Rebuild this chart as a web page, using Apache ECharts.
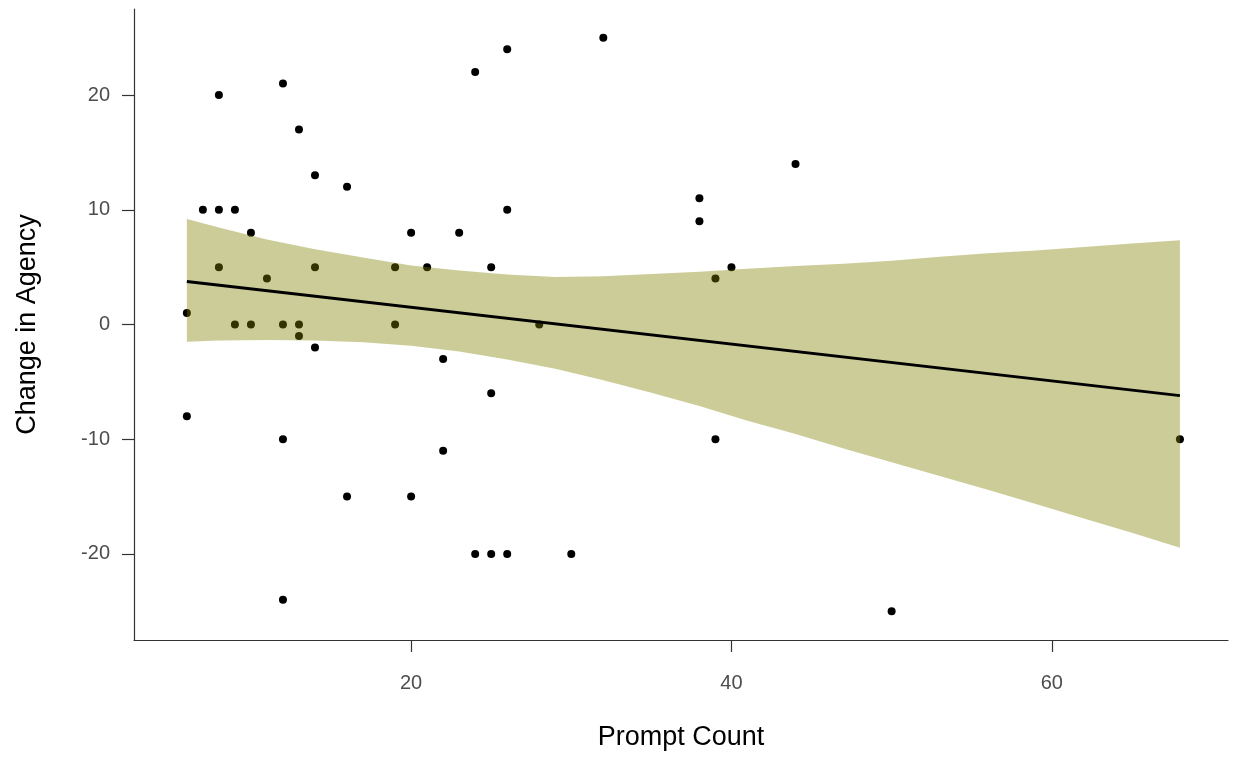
<!DOCTYPE html>
<html>
<head>
<meta charset="utf-8">
<script src="https://cdn.jsdelivr.net/npm/echarts@6/dist/echarts.min.js"></script>
<style>
  html, body { margin: 0; padding: 0; background: #ffffff; }
  #chart { width: 1235px; height: 759px; }
</style>
</head>
<body>
<div id="chart"></div>
<script>
// Observations: prompt count per participant and change in agency score
const promptCount = [6, 6, 7, 8, 8, 8, 9, 9, 10, 10, 11, 12, 12, 12, 12, 13, 13, 13, 14, 14, 14, 16, 16, 19, 19, 20, 20, 21, 22, 22, 23, 24, 24, 25, 25, 25, 26, 26, 26, 28, 30, 32, 38, 38, 39, 39, 40, 44, 50, 68];
const agencyChange = [1, -8, 10, 20, 10, 5, 10, 0, 8, 0, 4, 21, 0, -10, -24, 17, 0, -1, 13, 5, -2, 12, -15, 5, 0, 8, -15, 5, -3, -11, 8, 22, -20, 5, -6, -20, 24, 10, -20, 0, -20, 25, 11, 9, 4, -10, 5, 14, -25, -10];

// Linear fit and its 95% confidence band
const fitX = [6, 68];
const fitY = [3.75, -6.2];
const bandX = [6, 8, 11, 14, 17, 20, 23, 26, 29, 32, 35, 38, 41, 44, 47, 50, 53, 56, 59, 62, 65, 68];
const bandUpper = [9.2, 8.45, 7.4, 6.55, 5.85, 5.15, 4.7, 4.35, 4.15, 4.2, 4.4, 4.6, 4.85, 5.1, 5.3, 5.55, 5.9, 6.2, 6.45, 6.75, 7.05, 7.35];
const bandLower = [-1.5, -1.4, -1.35, -1.4, -1.55, -1.85, -2.35, -3.05, -3.85, -4.85, -5.95, -7.1, -8.4, -9.55, -10.8, -12.0, -13.2, -14.4, -15.65, -16.9, -18.15, -19.45];

// Axis ticks
const xTicks = [20, 40, 60];
const yTicks = [-20, -10, 0, 10, 20];

const chart = echarts.init(document.getElementById('chart'), null, { renderer: 'canvas' });

const fontFamily = 'Liberation Sans, Arial, sans-serif';
const axisLineStyle = { color: '#333333', width: 1.2 };

chart.setOption({
  animation: false,
  backgroundColor: '#ffffff',
  grid: { left: 134, right: 7, top: 9, bottom: 119, containLabel: false },
  xAxis: {
    type: 'value',
    min: 2.7,
    max: 71,
    name: 'Prompt Count',
    nameLocation: 'middle',
    nameGap: 84,
    nameTextStyle: { color: '#000000', fontFamily: fontFamily, fontSize: 27 },
    axisLine: { show: true, onZero: false, lineStyle: axisLineStyle },
    axisTick: { show: true, length: 12, customValues: xTicks, lineStyle: axisLineStyle },
    axisLabel: { customValues: xTicks, color: '#4d4d4d', fontSize: 20, margin: 33, fontFamily: fontFamily },
    splitLine: { show: false }
  },
  yAxis: {
    type: 'value',
    min: -27.5,
    max: 27.5,
    name: 'Change in Agency',
    nameLocation: 'middle',
    nameRotate: 90,
    nameGap: 93,
    nameTextStyle: { color: '#000000', fontFamily: fontFamily, fontSize: 27 },
    axisLine: { show: true, onZero: false, lineStyle: axisLineStyle },
    axisTick: { show: true, length: 12, customValues: yTicks, lineStyle: axisLineStyle },
    axisLabel: { customValues: yTicks, color: '#4d4d4d', fontSize: 20, margin: 24, fontFamily: fontFamily },
    splitLine: { show: false }
  },
  series: [
    {
      type: 'scatter',
      data: promptCount.map((x, i) => [x, agencyChange[i]]),
      symbol: 'circle',
      symbolSize: 8,
      itemStyle: { color: '#000000', opacity: 1 },
      z: 2
    },
    {
      type: 'custom',
      data: [0],
      z: 3,
      renderItem: function (params, api) {
        const upper = bandX.map((x, i) => api.coord([x, bandUpper[i]]));
        const lower = bandX.map((x, i) => api.coord([x, bandLower[i]])).reverse();
        return {
          type: 'polygon',
          shape: { points: upper.concat(lower) },
          style: { fill: 'rgba(128,128,0,0.4)' }
        };
      }
    },
    {
      type: 'line',
      data: fitX.map((x, i) => [x, fitY[i]]),
      symbol: 'none',
      lineStyle: { color: '#000000', width: 3 },
      z: 4
    }
  ]
});
</script>
</body>
</html>
